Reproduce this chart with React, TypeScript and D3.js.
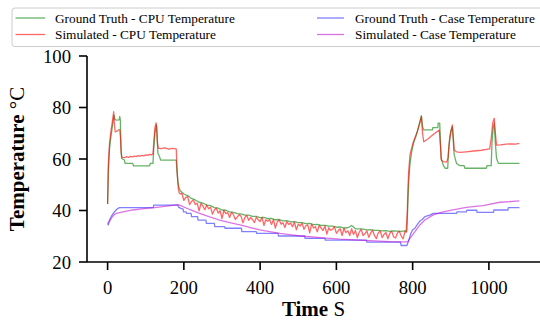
import React, { useEffect, useRef } from 'react';
import * as d3 from 'd3';

// Ground truth CPU temperature, [time s, °C]
const gtCpuHead = [
  [0, 42.5], [2, 55], [5, 64], [9, 69], [13, 73], [17, 77], [19, 75.5], [22, 75.1],
  [30, 75.2], [32, 76.5], [33.5, 75], [35, 64], [37, 60.2], [44, 59.6], [46, 58.3],
  [66, 58.3], [68, 57.3], [110, 57.3], [112, 58.3], [119, 58.3], [121, 64], [124, 70],
  [128, 73.2], [130, 68], [132, 62.2], [136, 61], [139, 59.6], [180, 59.6], [182, 55],
  [184.5, 51.2], [187, 49], [189, 48.2],
];
// sampled every 10 s from 190 to 780
const gtCpuMid = [
  47.8, 46.4, 45.8, 44.7, 44.1, 43.2, 42.9, 42.1, 41.9, 41.1, 40.9, 40.2, 40.1, 39.5,
  39.3, 38.8, 38.7, 38.2, 38.2, 37.7, 37.7, 37.2, 37.3, 36.8, 36.9, 36.4, 36.5, 36.0,
  36.1, 35.6, 35.7, 35.3, 35.3, 34.9, 35.0, 34.5, 34.6, 34.2, 34.2, 33.9, 33.9, 33.5,
  33.6, 33.2, 33.3, 34.2, 32.9, 32.9, 32.8, 32.5, 32.6, 32.3, 32.3, 32.1, 32.2, 31.9,
  32.1, 32.0, 31.9, 32.1,
];
const gtCpuTail = [
  [785, 32.0], [788, 45], [790, 52], [793, 58], [797, 62.5], [802, 66], [808, 68.5],
  [813, 71], [818, 74], [823, 76.8], [826, 72.5], [829, 71.3], [852, 71.3], [853, 72.2],
  [866, 72.2], [867, 73.9], [871, 73.9], [873, 66], [875, 60.3], [880, 57.7], [885, 56.4],
  [892, 56.4], [894, 63], [897, 68], [900, 71], [904, 72.5], [907, 66], [909, 61.6],
  [915, 58.3], [924, 57.4], [935, 57.4], [937, 56.4], [993, 56.4], [995, 57.4],
  [1006, 57.4], [1008, 66], [1011, 72], [1014, 73.9], [1017, 66], [1020, 60.3],
  [1025, 58.3], [1080, 58.3],
];

// Simulated CPU temperature
const simCpuHead = [
  [0, 42.5], [2, 58], [5, 66], [9, 71], [13, 75], [16, 78.4], [18, 73], [20, 70.5],
  [25, 70.8], [30, 71.5], [32, 71.2], [34, 68], [36, 62], [38, 60.6], [45, 60.5],
  [50, 60.9], [55, 60.6], [60, 61.0], [65, 60.8], [70, 61.1], [75, 60.9], [80, 61.3],
  [85, 61.1], [90, 61.4], [95, 61.2], [100, 61.6], [105, 61.4], [110, 61.8], [115, 61.6],
  [119, 62.0], [121, 66], [124, 72], [127, 74], [129, 72], [131, 66], [133, 64.2],
  [140, 64.0], [150, 64.3], [160, 63.8], [170, 64.1], [180, 63.9], [182, 57],
  [184, 51], [186, 48], [188, 46.8],
];
// sampled every 5 s from 190 to 780
const simCpuMid = [
  46.5, 46.6, 43.9, 45.1, 45.4, 42.3, 43.5, 44.1, 42.3, 42.8,
  39.9, 42.8, 41.7, 40.3, 42.1, 40.7, 41.3, 38.6, 40.2, 41.0,
  39.0, 39.9, 36.9, 40.0, 38.8, 39.2, 37.3, 39.3, 38.4, 36.5,
  37.4, 38.4, 37.8, 35.2, 37.3, 38.1, 36.2, 37.3, 36.5, 35.3,
  37.4, 36.4, 35.7, 37.3, 34.2, 36.4, 35.8, 36.4, 34.6, 36.5,
  33.2, 35.6, 36.3, 34.7, 35.2, 33.4, 35.7, 34.6, 35.1, 33.7,
  35.5, 32.5, 34.7, 34.0, 35.1, 32.7, 34.1, 34.4, 31.3, 34.7,
  33.2, 33.7, 31.7, 34.2, 33.2, 32.2, 34.0, 30.8, 33.3, 32.3,
  32.8, 33.7, 31.1, 32.2, 32.9, 30.3, 33.1, 31.4, 32.1, 30.3,
  32.9, 30.7, 32.2, 29.5, 31.6, 32.7, 30.3, 31.0, 32.1, 29.6,
  31.3, 32.3, 30.2, 29.1, 31.4, 32.0, 29.5, 30.7, 31.5, 29.0,
  31.1, 32.0, 29.8, 29.3, 31.3, 31.9, 30.1, 29.0, 31.9,
];
const simCpuTail = [
  [783, 31.5], [786, 40], [788, 50], [790, 56], [793, 61.5], [797, 64], [802, 66.7],
  [808, 69], [813, 71], [818, 73.5], [823, 76.4], [826, 70], [829, 66.7], [840, 67.8],
  [850, 69], [860, 70.2], [870, 71.3], [873, 65], [875, 59.6], [880, 59.0], [889, 58.8],
  [893, 60.5], [896, 66], [899, 69.3], [904, 73.2], [907, 68], [909, 63.5], [915, 62.8],
  [924, 62.6], [940, 62.8], [960, 63.1], [980, 63.4], [1002, 63.9], [1006, 68],
  [1010, 74], [1014, 75.8], [1017, 70], [1020, 65.4], [1030, 65.5], [1045, 65.8],
  [1060, 65.9], [1070, 65.8], [1080, 66.1],
];

// Ground truth case temperature (stepped sensor)
const gtCase = [
  [0, 35.0], [2, 34.4], [5, 36.3], [10, 37.8], [18, 39.5], [25, 40.6], [31, 41.1],
  [120, 41.1], [121, 42.1], [184, 42.1], [187, 41.2], [192, 40.8], [198, 40.5],
  [199, 39.5], [206, 39.5], [207, 38.9], [219, 38.9], [220, 37.6], [236, 37.6],
  [237, 36.3], [258, 36.3], [259, 35.0], [280, 35.0], [281, 33.7], [307, 33.7],
  [308, 33.1], [351, 33.1], [352, 31.8], [390, 31.8], [391, 31.1], [447, 31.1],
  [448, 30.1], [517, 30.1], [518, 29.2], [570, 29.2], [571, 28.5], [679, 28.5],
  [680, 27.7], [768, 27.7], [770, 26.4], [785, 26.4], [790, 28.5], [795, 31],
  [800, 32.5], [806, 33.1], [812, 34.5], [819, 35.9], [825, 36.5], [832, 37.6],
  [845, 38.2], [854, 38.9], [915, 38.9], [916, 39.5], [941, 39.5], [942, 40.1],
  [968, 40.1], [969, 39.3], [1012, 39.3], [1013, 40.2], [1050, 40.2], [1051, 41.1],
  [1080, 41.1],
];

// Simulated case temperature
const simCase = [
  [0, 35.0], [5, 35.8], [10, 37.0], [16, 38.2], [23, 38.9], [40, 39.5], [66, 40.2],
  [95, 40.7], [123, 41.1], [155, 41.7], [184, 42.3], [189, 42.1], [215, 40.4],
  [241, 38.9], [268, 37.5], [294, 36.3], [320, 35.3], [347, 34.4], [373, 33.4],
  [399, 32.5], [425, 31.8], [452, 31.1], [478, 30.6], [504, 30.1], [530, 29.8],
  [557, 29.5], [583, 29.2], [609, 28.9], [635, 28.7], [661, 28.5], [687, 28.3],
  [714, 28.1], [740, 27.9], [766, 27.8], [787, 27.8], [793, 29.2], [806, 31.8],
  [819, 34.4], [832, 36.3], [854, 38.3], [880, 39.5], [906, 40.2], [941, 41.2],
  [984, 41.9], [1029, 43.2], [1080, 43.7],
];

const xTicks = [0, 200, 400, 600, 800, 1000];
const yTicks = [20, 40, 60, 80, 100];

const legendItems = [
  { label: 'Ground Truth - CPU Temperature', color: '#008000', opacity: 0.6 },
  { label: 'Simulated - CPU Temperature', color: '#ff0000', opacity: 0.6 },
  { label: 'Ground Truth - Case Temperature', color: '#0000ff', opacity: 0.5 },
  { label: 'Simulated - Case Temperature', color: '#c000d0', opacity: 0.55 },
];

const W = 540;
const H = 322;
const FONT = '"Liberation Serif", "DejaVu Serif", serif';

const App = () => {
  const ref = useRef(null);

  useEffect(() => {
    const svg = d3.select(ref.current);
    svg.selectAll('*').remove();

    const x = d3.scaleLinear().domain([-54, 1134]).range([87, 540]);
    const y = d3.scaleLinear().domain([20, 100]).range([262, 56]);

    // join head / sampled middle / tail parts
    const gtCpu = [
      ...gtCpuHead,
      ...gtCpuMid.map((v, i) => [190 + i * 10, v]),
      ...gtCpuTail,
    ];
    const simCpu = [
      ...simCpuHead,
      ...simCpuMid.map((v, i) => [190 + i * 5, v]),
      ...simCpuTail,
    ];

    const line = d3
      .line()
      .x(d => x(d[0]))
      .y(d => y(d[1]));

    const series = [gtCpu, simCpu, gtCase, simCase];
    series.forEach((s, i) => {
      svg
        .append('path')
        .attr('d', line(s))
        .attr('fill', 'none')
        .attr('stroke', legendItems[i].color)
        .attr('stroke-opacity', legendItems[i].opacity)
        .attr('stroke-width', 1.3)
        .attr('stroke-linejoin', 'round');
    });

    // spines
    svg.append('line').attr('x1', 87).attr('x2', 87).attr('y1', 56).attr('y2', 262)
      .attr('stroke', '#000').attr('stroke-width', 1.6);
    svg.append('line').attr('x1', 87).attr('x2', 540).attr('y1', 262).attr('y2', 262)
      .attr('stroke', '#000').attr('stroke-width', 1.6);

    // x ticks
    xTicks.forEach(t => {
      svg.append('line').attr('x1', x(t)).attr('x2', x(t)).attr('y1', 262).attr('y2', 270)
        .attr('stroke', '#000').attr('stroke-width', 1.6);
      svg.append('text').attr('x', x(t)).attr('y', 294)
        .attr('text-anchor', 'middle').attr('font-size', 18.7).attr('font-family', FONT)
        .text(t);
    });

    // y ticks
    yTicks.forEach(t => {
      svg.append('line').attr('x1', 79).attr('x2', 87).attr('y1', y(t)).attr('y2', y(t))
        .attr('stroke', '#000').attr('stroke-width', 1.6);
      svg.append('text').attr('x', 71).attr('y', y(t))
        .attr('text-anchor', 'end').attr('dominant-baseline', 'central')
        .attr('font-size', 18.7).attr('font-family', FONT)
        .text(t);
    });

    // axis labels
    const xl = svg.append('text').attr('x', 313.5).attr('y', 316)
      .attr('text-anchor', 'middle').attr('font-size', 21).attr('font-family', FONT);
    xl.append('tspan').attr('font-weight', 'bold').text('Time');
    xl.append('tspan').text(' S');

    const yl = svg.append('text')
      .attr('transform', 'translate(24,159) rotate(-90)')
      .attr('text-anchor', 'middle').attr('font-size', 21).attr('font-family', FONT);
    yl.append('tspan').attr('font-weight', 'bold').text('Temperature ');
    yl.append('tspan').text('°C');

    // legend
    const lg = svg.append('g');
    lg.append('rect').attr('x', 12).attr('y', 8).attr('width', 560).attr('height', 38.5)
      .attr('rx', 3).attr('fill', '#fff').attr('fill-opacity', 0.8)
      .attr('stroke', '#cccccc').attr('stroke-width', 1);
    const cols = [
      { x0: 15.5, x1: 45, tx: 55 },
      { x0: 317, x1: 344, tx: 355 },
    ];
    const rows = [18, 34.5];
    legendItems.forEach((item, i) => {
      const c = cols[Math.floor(i / 2)];
      const ry = rows[i % 2];
      lg.append('line').attr('x1', c.x0).attr('x2', c.x1).attr('y1', ry).attr('y2', ry)
        .attr('stroke', item.color).attr('stroke-opacity', item.opacity).attr('stroke-width', 1.3);
      lg.append('text').attr('x', c.tx).attr('y', ry).attr('dominant-baseline', 'central')
        .attr('font-size', 13.3).attr('font-family', FONT).text(item.label);
    });
  }, []);

  return (
    <svg
      ref={ref}
      width={W}
      height={H}
      style={{ position: 'absolute', left: 0, top: 0, background: '#fff' }}
    />
  );
};

export default App;
